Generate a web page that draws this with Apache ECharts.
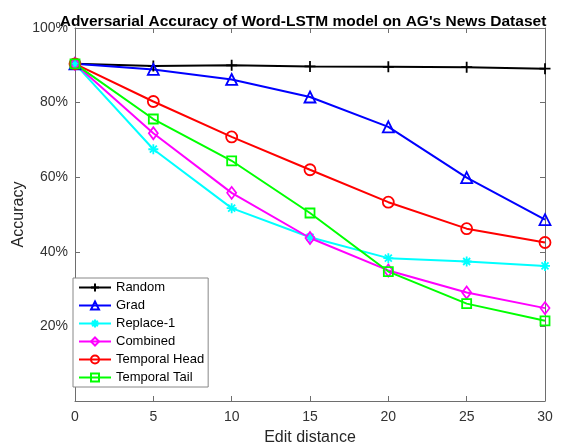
<!DOCTYPE html>
<html><head><meta charset="utf-8">
<script src="https://cdn.jsdelivr.net/npm/echarts@6/dist/echarts.min.js"></script>
<style>html,body{margin:0;padding:0;background:#fff}#c{width:563px;height:444px}</style>
</head><body><div id="c"></div>
<script>
const editDistance = [0, 5, 10, 15, 20, 25, 30];
const seriesNames = ['Random', 'Grad', 'Replace-1', 'Combined', 'Temporal Head', 'Temporal Tail'];
const random = [90.4, 89.8, 90.0, 89.7, 89.6, 89.5, 89.1];
const grad = [90.4, 88.9, 86.2, 81.5, 73.5, 59.9, 48.6];
const replace1 = [90.4, 67.5, 51.7, 43.9, 38.3, 37.4, 36.2];
const combined = [90.4, 71.8, 55.8, 43.7, 35.0, 29.1, 24.9];
const temporalHead = [90.4, 80.3, 70.8, 62.0, 53.3, 46.2, 42.5];
const temporalTail = [90.4, 75.6, 64.4, 50.4, 34.7, 26.1, 21.5];
const yTicks = [20, 40, 60, 80, 100];

const values = [random, grad, replace1, combined, temporalHead, temporalTail];
const colors = ['#000000', '#0000ff', '#00ffff', '#ff00ff', '#ff0000', '#00ff00'];
const symbols = [
  'path://M5,0L5,10M0,5L10,5',
  'triangle',
  'path://M5,0L5,10M0,5L10,5M1.5,1.5L8.5,8.5M8.5,1.5L1.5,8.5',
  'diamond',
  'circle',
  'rect'
];
const sizes = [11, 11, 10, [9, 12], 11, 9];

const font = 'Arial, "Liberation Sans", Helvetica, sans-serif';
const axisGray = '#6e6e6e';
const series = values.map((v, i) => ({
  name: seriesNames[i],
  type: 'line',
  data: editDistance.map((x, j) => [x, v[j]]),
  symbol: symbols[i],
  symbolSize: sizes[i],
  showAllSymbol: true,
  lineStyle: { color: colors[i], width: 2 },
  itemStyle: { color: 'rgba(255,255,255,0)', borderColor: colors[i], borderWidth: 1.8 },
  emphasis: { disabled: true },
  animation: false
}));

const tickStyle = { show: true, inside: true, length: 5, lineStyle: { color: axisGray } };
const lineStyle = { show: true, onZero: false, lineStyle: { color: axisGray, width: 1 } };

const chart = echarts.init(document.getElementById('c'), null, { renderer: 'canvas' });
chart.setOption({
  animation: false,
  backgroundColor: '#fff',
  title: {
    text: "Adversarial Accuracy of Word-LSTM model on AG's News Dataset",
    left: 298, textAlign: 'center', top: 9,
    textStyle: { fontFamily: font, fontSize: 15.5, fontWeight: 'bold', color: '#000' }
  },
  grid: { left: 75, right: 18, top: 28, bottom: 43, containLabel: false, outerBoundsMode: 'none' },
  legend: {
    orient: 'vertical', left: 73, top: 278,
    data: seriesNames,
    itemWidth: 32, itemHeight: 10, itemGap: 5,
    padding: [3, 4, 3, 5],
    backgroundColor: '#fff', borderColor: '#888', borderWidth: 1,
    textStyle: { fontFamily: font, fontSize: 13, color: '#000' }
  },
  xAxis: [{
    type: 'value', min: 0, max: 30, interval: 5,
    name: 'Edit distance', nameLocation: 'middle', nameGap: 29,
    nameTextStyle: { fontFamily: font, fontSize: 16, color: '#262626' },
    axisLine: lineStyle,
    axisTick: tickStyle,
    axisLabel: { fontFamily: font, fontSize: 14, color: '#333', margin: 9 },
    splitLine: { show: false }
  }, {
    type: 'value', min: 0, max: 30, interval: 5, position: 'top',
    axisLine: lineStyle,
    axisTick: tickStyle,
    axisLabel: { show: false }, splitLine: { show: false }
  }],
  yAxis: [{
    type: 'value', min: 0, max: 100, interval: 20,
    name: 'Accuracy', nameLocation: 'middle', nameGap: 48, nameMoveOverlap: false,
    nameTextStyle: { fontFamily: font, fontSize: 16, color: '#262626' },
    axisLine: lineStyle,
    axisTick: tickStyle,
    axisLabel: { fontFamily: font, fontSize: 14, color: '#333', margin: 7,
      formatter: v => yTicks.includes(v) ? v + '%' : '' },
    splitLine: { show: false }
  }, {
    type: 'value', min: 0, max: 100, interval: 20, position: 'right',
    axisLine: lineStyle,
    axisTick: tickStyle,
    axisLabel: { show: false }, splitLine: { show: false }
  }],
  series: series
});
</script></body></html>
